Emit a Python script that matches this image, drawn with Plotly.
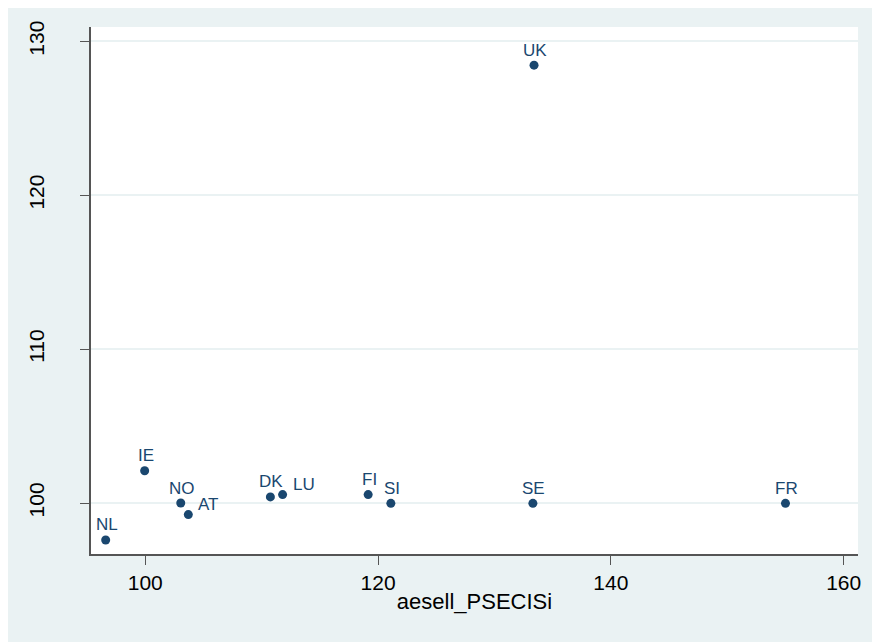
import plotly.graph_objects as go

countries = ["NL", "IE", "NO", "AT", "DK", "LU", "FI", "SI", "SE", "FR", "UK"]
x_vals = [96.6, 99.95, 103.05, 103.7, 110.75, 111.8, 119.15, 121.1, 133.3, 155.0, 133.4]
y_vals = [97.6, 102.1, 100.0, 99.25, 100.4, 100.55, 100.55, 99.98, 99.98, 99.98, 128.45]
# clock position of each marker label (Stata style): 12 = above, 2 = upper right
label_clock = [12, 12, 12, 2, 12, 2, 12, 12, 12, 12, 12]
x_ticks = [100, 120, 140, 160]
y_ticks = [100, 110, 120, 130]

navy = "#1a476f"
bg = "#EAF2F3"
font_family = "Liberation Sans, Arial"

fig = go.Figure(go.Scatter(
    x=x_vals, y=y_vals, mode="markers",
    marker=dict(color=navy, size=9),
    cliponaxis=False, showlegend=False, hoverinfo="text", hovertext=countries,
))

shifts = {12: (1, 15, "center"), 2: (8, 10, "left")}
for name, xv, yv, clk in zip(countries, x_vals, y_vals, label_clock):
    dx, dy, anchor = shifts[clk]
    fig.add_annotation(
        x=xv, y=yv, text=name, showarrow=False,
        xanchor=anchor, yanchor="middle", xshift=dx, yshift=dy,
        font=dict(color=navy, size=17, family=font_family),
    )

fig.update_layout(
    width=872, height=634,
    paper_bgcolor=bg, plot_bgcolor="white",
    margin=dict(l=83, r=22, t=19, b=88, autoexpand=False),
    font=dict(family=font_family, size=21, color="black"),
)
fig.update_xaxes(
    range=[95.34, 161.23], tickvals=x_ticks, showgrid=False, zeroline=False,
    showline=True, linecolor="#555555", linewidth=1.5,
    ticks="outside", ticklen=9, tickcolor="#555555",
    title=dict(text="aesell_PSECISi", standoff=1, font=dict(size=22)),
    tickfont=dict(size=21), automargin=False,
)
fig.update_yaxes(
    range=[96.69, 130.93], tickvals=y_ticks, showgrid=True, gridcolor=bg, gridwidth=2,
    zeroline=False, showline=True, linecolor="#555555", linewidth=1.5,
    ticks="outside", ticklen=9, tickcolor="#555555",
    tickangle=-90, tickfont=dict(size=21), ticklabelstandoff=28, automargin=False,
)

fig.write_html("out.html")
